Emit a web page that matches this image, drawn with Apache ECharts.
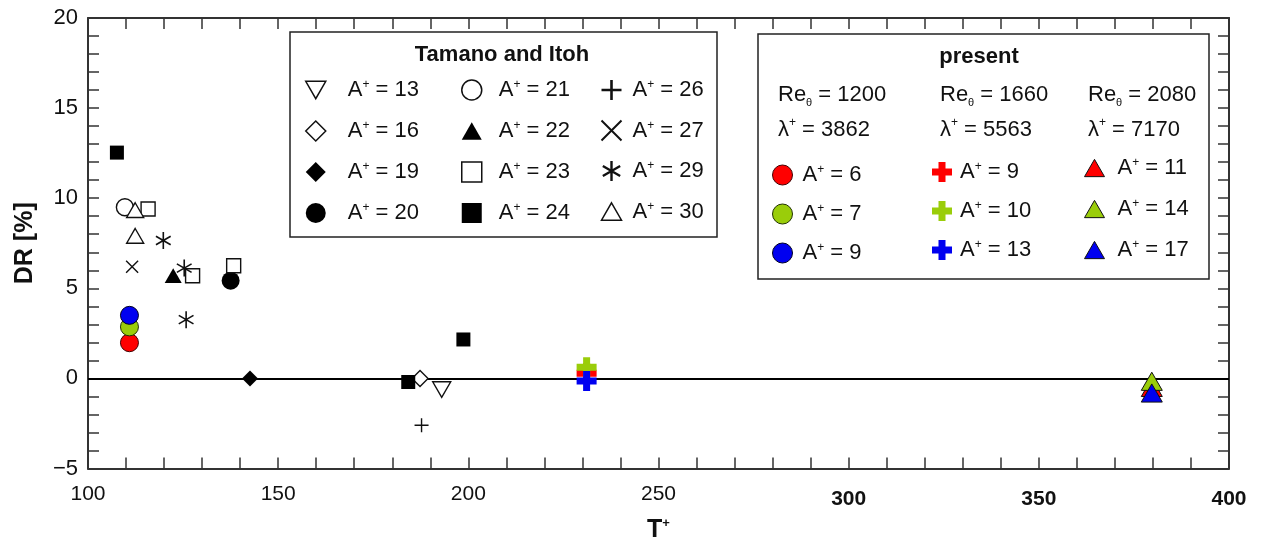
<!DOCTYPE html>
<html><head><meta charset="utf-8">
<script src="https://cdn.jsdelivr.net/npm/echarts@6/dist/echarts.min.js"></script>
<style>html,body{margin:0;padding:0;background:#fff}#c{width:1261px;height:548px}</style>
</head><body><div id="c"></div>
<script>
// ---- axis ticks ----
const xTickLabels = [100, 150, 200, 250, 300, 350, 400];
const yTickLabels = [-5, 0, 5, 10, 15, 20];

// ---- Tamano and Itoh: [T+, DR %] ----
const tamanoA13 = [[193.0, -0.62]];
const tamanoA16 = [[187.3, 0.0]];
const tamanoA19 = [[142.6, 0.0]];
const tamanoA20 = [[137.5, 5.42]];
const tamanoA21 = [[109.7, 9.5]];
const tamanoA22 = [[122.4, 5.7]];
const tamanoA23 = [[115.8, 9.4], [127.5, 5.7], [138.3, 6.25]];
const tamanoA24 = [[107.6, 12.53], [184.2, -0.2], [198.7, 2.16]];
const tamanoA26 = [[187.7, -2.6]];
const tamanoA27 = [[111.6, 6.19]];
const tamanoA29 = [[119.8, 7.65], [125.3, 6.12], [125.8, 3.26]];
const tamanoA30 = [[112.4, 9.34], [112.4, 7.91]];

// ---- present ----
const re1200A6 = [[110.9, 1.98]];
const re1200A7 = [[110.9, 2.86]];
const re1200A9 = [[110.9, 3.5]];
const re1660A9 = [[231.1, 0.28]];
const re1660A10 = [[231.1, 0.62]];
const re1660A13 = [[231.1, -0.15]];
const re2080A11 = [[379.7, -0.5]];
const re2080A14 = [[379.7, -0.16]];
const re2080A17 = [[379.7, -0.81]];

const presentHeads = [
  {re: '1200', lam: '3862'},
  {re: '1660', lam: '5563'},
  {re: '2080', lam: '7170'}
];

const FONT = "'Liberation Sans', Arial, sans-serif";
const RED = '#ff0000', GREEN = '#9acd0a', BLUE = '#0000f0';

const SYM = {
  downTri: 'path://M0,0L20,0L10,17.3Z',
  upTri: 'path://M10,0L20,17.3L0,17.3Z',
  circle: 'path://M20,10A10,10,0,1,1,0,10A10,10,0,1,1,20,10Z',
  square: 'path://M0,0L20,0L20,20L0,20Z',
  diamond: 'path://M10,0L20,10L10,20L0,10Z',
  plus: 'path://M10,0L10,20M0,10L20,10',
  cross: 'path://M0,0L20,20M20,0L0,20',
  aster: 'path://M10,0L10,20M1.34,5L18.66,15M1.34,15L18.66,5',
  greek: 'path://M6.5,0H13.5V6.5H20V13.5H13.5V20H6.5V13.5H0V6.5H6.5Z'
};

function sc(name, data, symbol, size, fill, stroke, bw) {
  return {
    type: 'scatter', name: name, data: data, symbol: symbol, symbolSize: size,
    symbolKeepAspect: true, silent: true, emphasis: {disabled: true},
    itemStyle: {color: fill, borderColor: stroke, borderWidth: bw, opacity: 1}
  };
}

const series = [
  sc('T13', tamanoA13, SYM.downTri, 18, '#fff', '#111', 1.4),
  sc('T16', tamanoA16, SYM.diamond, 16, '#fff', '#111', 1.4),
  sc('T19', tamanoA19, SYM.diamond, 16, '#000', '#000', 0),
  sc('T20', tamanoA20, SYM.circle, 18, '#000', '#000', 0),
  sc('T21', tamanoA21, SYM.circle, 17, '#fff', '#111', 1.4),
  sc('T22', tamanoA22, SYM.upTri, 17, '#000', '#000', 0),
  sc('T23', tamanoA23, SYM.square, 14, '#fff', '#111', 1.4),
  sc('T24', tamanoA24, SYM.square, 14, '#000', '#000', 0),
  sc('T26', tamanoA26, SYM.plus, 14, 'none', '#111', 1.4),
  sc('T27', tamanoA27, SYM.cross, 12, 'none', '#111', 1.4),
  sc('T29', tamanoA29, SYM.aster, 17, 'none', '#111', 1.6),
  sc('T30', tamanoA30, SYM.upTri, 17, '#fff', '#111', 1.4),
  sc('P6', re1200A6, SYM.circle, 18, RED, '#400', 1),
  sc('P7', re1200A7, SYM.circle, 18, GREEN, '#230', 1),
  sc('P9c', re1200A9, SYM.circle, 18, BLUE, '#002', 1),
  sc('P9', re1660A9, SYM.greek, 20, RED, RED, 0),
  sc('P10', re1660A10, SYM.greek, 20, GREEN, GREEN, 0),
  sc('P13', re1660A13, SYM.greek, 20, BLUE, BLUE, 0),
  sc('P11', re2080A11, SYM.upTri, 21, RED, '#111', 1),
  sc('P14', re2080A14, SYM.upTri, 21, GREEN, '#111', 1),
  sc('P17', re2080A17, SYM.upTri, 21, BLUE, '#111', 1)
];
series[0].markLine = {
  silent: true, symbol: 'none', z: 1, label: {show: false},
  lineStyle: {color: '#000', width: 2, type: 'solid'},
  data: [{yAxis: 0}]
};

const legendLabel = {
  T13: '13', T16: '16', T19: '19', T20: '20', T21: '21', T22: '22', T23: '23', T24: '24',
  T26: '26', T27: '27', T29: '29', T30: '30',
  P6: '6', P7: '7', P9c: '9', P9: '9', P10: '10', P13: '13', P11: '11', P14: '14', P17: '17'
};

const ICON = 20;
function legendCol(names, left, top, gap, spacer, widths) {
  return {
    orient: 'vertical', left: left, top: top, padding: 0, itemGap: gap,
    itemWidth: ICON, itemHeight: ICON, selectedMode: false, symbolKeepAspect: true,
    data: names.map((n, i) => ({name: n, itemStyle: {borderWidth: widths[i]}})),
    formatter: n => '{g| }{a|A}{s|+}{a| = ' + legendLabel[n] + '}',
    textStyle: {
      fontFamily: FONT, fontSize: 22, color: '#111',
      rich: {
        g: {width: spacer, fontSize: 22, lineHeight: 30},
        a: {fontFamily: FONT, fontSize: 22, lineHeight: 30, color: '#111'},
        s: {fontFamily: FONT, fontSize: 12, lineHeight: 12, padding: [4, 0, 0, 0], verticalAlign: 'top', color: '#111'}
      }
    }
  };
}

const legends = [
  legendCol(['T13', 'T16', 'T19', 'T20'], 305, 75, 15, 17, [1.5, 1.5, 0, 0]),
  legendCol(['T21', 'T22', 'T23', 'T24'], 461, 75, 15, 12, [1.5, 0, 1.5, 0]),
  legendCol(['T26', 'T27', 'T29', 'T30'], 599, 75, 13, 6, [2.6, 2, 2.4, 1.5]),
  legendCol(['P6', 'P7', 'P9c'], 772, 160, 13, 5, [1, 1, 1]),
  legendCol(['P9', 'P10', 'P13'], 932, 157, 13, 3, [0, 0, 0]),
  legendCol(['P11', 'P14', 'P17'], 1084, 153, 15, 8, [1, 1, 1])
];

const txtRich = {
  a: {fontFamily: FONT, fontSize: 22, lineHeight: 26, fill: '#111'},
  s: {fontFamily: FONT, fontSize: 12, lineHeight: 12, verticalAlign: 'top', fill: '#111'},
  b: {fontFamily: FONT, fontSize: 11, lineHeight: 11, verticalAlign: 'bottom', fill: '#111'}
};
const colX = [778, 940, 1088];
const graphics = [
  {type: 'rect', shape: {x: 290, y: 32, width: 427, height: 205}, style: {fill: 'none', stroke: '#222', lineWidth: 1.5}, silent: true},
  {type: 'rect', shape: {x: 758, y: 34, width: 451, height: 245}, style: {fill: 'none', stroke: '#222', lineWidth: 1.5}, silent: true},
  {type: 'text', x: 502, y: 55, style: {text: 'Tamano and Itoh', font: 'bold 22px ' + FONT, fill: '#111', align: 'center', verticalAlign: 'middle'}, silent: true},
  {type: 'text', x: 979, y: 57, style: {text: 'present', font: 'bold 22px ' + FONT, fill: '#111', align: 'center', verticalAlign: 'middle'}, silent: true}
];
presentHeads.forEach((h, i) => {
  graphics.push({type: 'text', x: colX[i], y: 95, silent: true,
    style: {text: '{a|Re}{b|θ}{a| = ' + h.re + '}', rich: txtRich, align: 'left', verticalAlign: 'middle'}});
  graphics.push({type: 'text', x: colX[i], y: 130, silent: true,
    style: {text: '{a|λ}{s|+}{a| = ' + h.lam + '}', rich: txtRich, align: 'left', verticalAlign: 'middle'}});
});

const axisLine = {show: true, onZero: false, lineStyle: {color: '#333', width: 2}};
const tickStyle = {color: '#333', width: 1.5};

const option = {
  animation: false,
  backgroundColor: '#fff',
  grid: {left: 88, right: 32, top: 18, bottom: 75},
  legend: legends,
  graphic: graphics,
  xAxis: [{
    type: 'value', min: xTickLabels[0], max: xTickLabels[xTickLabels.length - 1], interval: 50,
    position: 'bottom', axisLine: axisLine,
    axisTick: {show: true, inside: true, length: 11, lineStyle: tickStyle},
    minorTick: {show: true, splitNumber: 5, length: 11, lineStyle: tickStyle},
    splitLine: {show: false},
    axisLabel: {
      margin: 15, color: '#111', fontFamily: FONT, fontSize: 21,
      formatter: v => xTickLabels.indexOf(v) >= 0 ? (v >= 300 ? '{b|' + v + '}' : '{n|' + v + '}') : '',
      rich: {
        n: {fontFamily: FONT, fontSize: 21, color: '#111'},
        b: {fontFamily: FONT, fontSize: 21, fontWeight: 'bold', color: '#111', padding: [5, 0, 0, 0]}
      }
    },
    name: '{t|T}{s|+}', nameLocation: 'middle', nameGap: 48,
    nameTextStyle: {
      rich: {
        t: {fontFamily: FONT, fontSize: 25, fontWeight: 'bold', color: '#111', lineHeight: 28},
        s: {fontFamily: FONT, fontSize: 13, fontWeight: 'bold', color: '#111', lineHeight: 13, verticalAlign: 'top'}
      }
    }
  }, {
    type: 'value', min: xTickLabels[0], max: xTickLabels[xTickLabels.length - 1], interval: 50,
    position: 'top', axisLine: axisLine,
    axisTick: {show: true, inside: true, length: 11, lineStyle: tickStyle},
    minorTick: {show: true, splitNumber: 5, length: 11, lineStyle: tickStyle},
    splitLine: {show: false}, axisLabel: {show: false}
  }],
  yAxis: [{
    type: 'value', min: yTickLabels[0], max: yTickLabels[yTickLabels.length - 1], interval: 5,
    position: 'left', axisLine: axisLine,
    axisTick: {show: true, inside: true, length: 11, lineStyle: tickStyle},
    minorTick: {show: true, splitNumber: 5, length: 11, lineStyle: tickStyle},
    splitLine: {show: false},
    axisLabel: {
      margin: 10, color: '#111', fontFamily: FONT, fontSize: 22,
      formatter: v => v < 0 ? '\u2212' + (-v) : String(v)
    },
    name: 'DR [%]', nameLocation: 'middle', nameRotate: 90, nameGap: 50,
    nameTextStyle: {fontFamily: FONT, fontSize: 25, fontWeight: 'bold', color: '#111'}
  }, {
    type: 'value', min: yTickLabels[0], max: yTickLabels[yTickLabels.length - 1], interval: 5,
    position: 'right', axisLine: axisLine,
    axisTick: {show: true, inside: true, length: 11, lineStyle: tickStyle},
    minorTick: {show: true, splitNumber: 5, length: 11, lineStyle: tickStyle},
    splitLine: {show: false}, axisLabel: {show: false}
  }],
  series: series
};

const chart = echarts.init(document.getElementById('c'), null, {renderer: 'canvas'});
chart.setOption(option);
</script>
</body></html>
